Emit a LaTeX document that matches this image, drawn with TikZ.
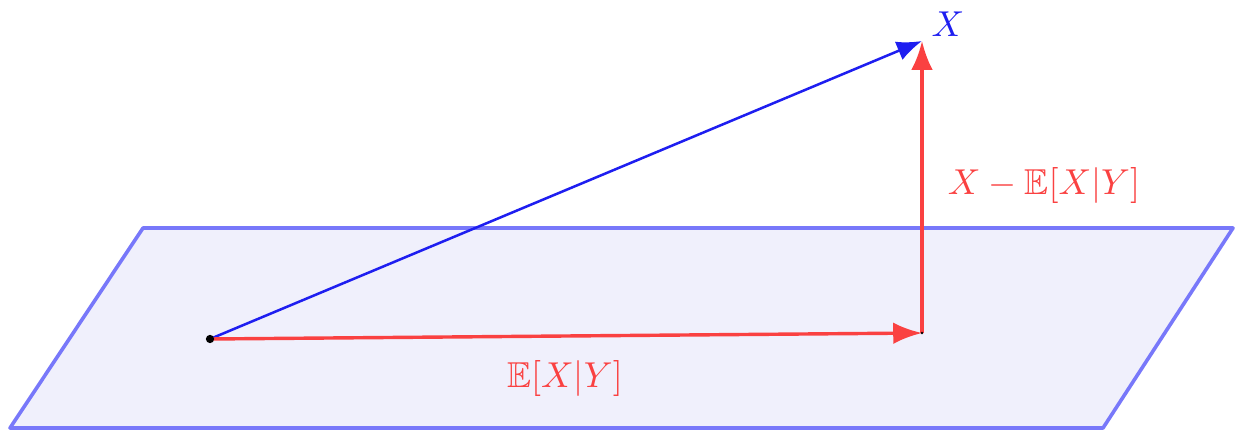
\documentclass[tikz,border=0pt]{standalone}
\usepackage{amssymb}
\usetikzlibrary{arrows.meta}
\definecolor{planeline}{RGB}{120,120,250}
\definecolor{planefill}{RGB}{240,240,252}
\definecolor{vecblue}{RGB}{30,30,240}
\definecolor{vecred}{RGB}{250,65,65}
\tikzset{
  plane/.style={draw=planeline, fill=planefill, line width=1pt, line join=round},
  bluevec/.style={draw=vecblue, line width=0.7pt, -{Latex[length=7pt,width=5.5pt]}},
  redvec/.style={draw=vecred, line width=0.95pt, -{Latex[length=8pt,width=6pt]}},
  redlab/.style={text=vecred, inner sep=0pt},
}
\begin{document}
\begin{tikzpicture}[x=0.2778pt,y=-0.2778pt]
\useasboundingbox (0,0) rectangle (1235,432);
\draw[plane] (143,228) -- (1233,228) -- (1103,428) -- (10,428) -- cycle;
\coordinate (O) at (210,339);
\coordinate (P) at (922,333);
\coordinate (X) at (922,41);
\draw[bluevec] (O) -- (X);
\draw[redvec] (O) -- (P);
\draw[redvec] (P) -- (X);
\fill[black] (O) circle (1.15pt);
\fill[black] (P) circle (0.4pt);
\node[text=vecblue, anchor=south west, inner sep=1pt, xshift=1.5pt] (xl) at (X) {$X$};
\node[redlab] (el) at (565,378) {$\mathbb{E}[X|Y]$};
\node[redlab] (dl) at (1044,186) {$X-\mathbb{E}[X|Y]$};
\end{tikzpicture}
\end{document}
